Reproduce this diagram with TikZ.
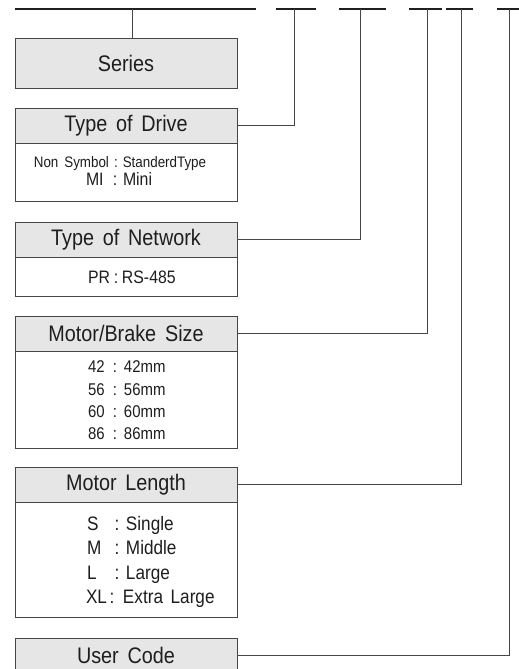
\documentclass[tikz,border=0pt]{standalone}
\usepackage{fontspec}
\setmainfont{Liberation Sans}[WordSpace=1.5]
\newfontfamily\narrowfont{Liberation Sans}[FakeStretch=0.88, WordSpace=1.6]
\definecolor{hdrfill}{RGB}{230,230,230}
\definecolor{lncol}{RGB}{70,70,70}
\definecolor{txtcol}{RGB}{30,30,30}
\newcommand{\kvline}[4]{\makebox[#1][l]{#2}\makebox[8pt]{:}\hspace{#4}#3}
\begin{document}
\begin{tikzpicture}[x=1pt,y=-1pt,
  box/.style={draw=lncol, line width=0.9pt, inner sep=0pt, outer sep=0pt, minimum width=222pt, anchor=north west, text=txtcol},
  hdrbox/.style={box, fill=hdrfill, minimum height=35pt, font=\narrowfont\fontsize{22.5}{24}\selectfont},
  bodybox/.style={box, fill=white, anchor=north},
  txt/.style={anchor=base west, inner sep=0pt, outer sep=0pt, text=txtcol},
  bar/.style={line width=2.7pt, black!88},
  conn/.style={line width=0.9pt, lncol}]
\useasboundingbox (0,0) rectangle (519,669);
\clip (0,0) rectangle (519,669);

% top code bars
\coordinate (b1a) at (15,9);  \coordinate (b1b) at (256,9);
\coordinate (b2a) at (276,9); \coordinate (b2b) at (316,9);
\coordinate (b3a) at (339,9); \coordinate (b3b) at (386,9);
\coordinate (b4a) at (409,9); \coordinate (b4b) at (442,9);
\coordinate (b5a) at (446,9); \coordinate (b5b) at (473,9);
\coordinate (b6a) at (497,9); \coordinate (b6b) at (522,9);
\coordinate (t1) at (132,9);
\coordinate (t2) at (294,9);
\coordinate (t3) at (360,9);
\coordinate (t4) at (427,9);
\coordinate (t5) at (461,9);
\coordinate (t6) at (509,9);

% Series
\node[hdrbox, minimum height=50pt] (series) at (15,38) {Series};

% Type of Drive
\node[hdrbox] (drvH) at (15,108) {Type of Drive};
\node[bodybox, minimum height=58pt] (drvB) at (drvH.south) {};
\node[txt, anchor=base, font=\narrowfont\fontsize{15.2}{17}\selectfont] (drv1) at (120,167) {Non Symbol\,\,:\,\,StanderdType};
\node[txt, font=\narrowfont\fontsize{18}{20}\selectfont] (drv2) at (86,185) {\kvline{25pt}{MI}{Mini}{4pt}};

% Type of Network
\node[hdrbox] (netH) at (15,222) {Type of Network};
\node[bodybox, minimum height=39pt] (netB) at (netH.south) {};
\node[txt, font=\narrowfont\fontsize{18}{20}\selectfont] (net1) at (88,283) {\kvline{24pt}{PR}{RS-485}{2pt}};

% Motor/Brake Size
\node[hdrbox] (mbH) at (15,316) {Motor/Brake Size};
\node[bodybox, minimum height=97pt] (mbB) at (mbH.south) {};
\begin{scope}[every node/.style={txt, font=\narrowfont\fontsize{17}{19}\selectfont}]
\node (mb1) at (88,372.5) {\kvline{23pt}{42}{42mm}{5pt}};
\node (mb2) at (88,395)   {\kvline{23pt}{56}{56mm}{5pt}};
\node (mb3) at (88,417)   {\kvline{23pt}{60}{60mm}{5pt}};
\node (mb4) at (88,439)   {\kvline{23pt}{86}{86mm}{5pt}};
\end{scope}

% Motor Length
\node[hdrbox] (mlH) at (15,467) {Motor Length};
\node[bodybox, minimum height=115pt] (mlB) at (mlH.south) {};
\begin{scope}[every node/.style={txt, font=\narrowfont\fontsize{19.5}{21}\selectfont}]
\node (ml1) at (87,530)   {\kvline{26pt}{S}{Single}{5pt}};
\node (ml2) at (87,554.5) {\kvline{26pt}{M}{Middle}{5pt}};
\node (ml3) at (87,579)   {\kvline{26pt}{L}{Large}{5pt}};
\node (ml4) at (86,603.5) {\kvline{22pt}{XL}{Extra Large}{7pt}};
\end{scope}

% User Code
\node[hdrbox] (ucH) at (15,638) {User Code};

% bars
\draw[bar] (b1a) -- (b1b);
\draw[bar] (b2a) -- (b2b);
\draw[bar] (b3a) -- (b3b);
\draw[bar] (b4a) -- (b4b);
\draw[bar] (b5a) -- (b5b);
\draw[bar] (b6a) -- (b6b);

% connectors
\draw[conn] (t1) -- (t1 |- series.north);
\draw[conn] (drvH.east) -| (t2);
\draw[conn] (netH.east) -| (t3);
\draw[conn] (mbH.east) -| (t4);
\draw[conn] (mlH.east) -| (t5);
\draw[conn] (ucH.east) -| (t6);
\end{tikzpicture}
\end{document}
